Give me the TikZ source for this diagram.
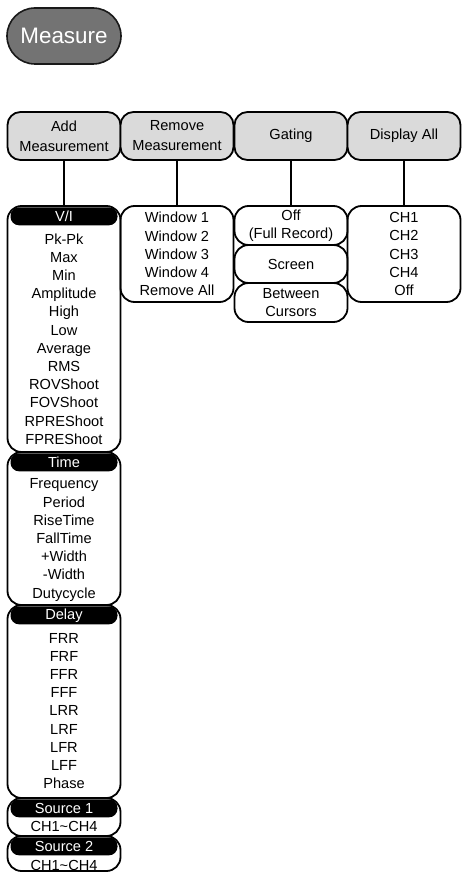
\documentclass[tikz,border=0pt]{standalone}
\usepackage{fontspec}
\setmainfont{Liberation Sans}
\usetikzlibrary{positioning}
\definecolor{btngray}{HTML}{737373}
\definecolor{menugray}{HTML}{DADADA}
\tikzset{
  keybtn/.style    = {draw=black!90,fill=btngray,line width=1.6pt,rounded corners=28pt,
                      minimum width=114pt,minimum height=56pt,text=white,
                      font=\fontsize{22.4}{24}\selectfont},
  menubtn/.style   = {draw,fill=menugray,line width=1.8pt,rounded corners=13pt,
                      minimum width=113pt,minimum height=48pt,align=center,inner sep=0pt,
                      font=\fontsize{14.6}{20}\selectfont},
  listframe/.style = {draw,line width=1.8pt,rounded corners=14pt,minimum width=113pt,
                      inner sep=0pt,align=center,font=\fontsize{14.6}{18.2}\selectfont},
  hdr/.style       = {fill=black,text=white,rounded corners=8.5pt,minimum width=107pt,
                      minimum height=18pt,inner sep=0pt,anchor=north,yshift=-2pt,
                      font=\fontsize{14.6}{18.2}\selectfont},
  items/.style     = {align=center,inner sep=0pt,font=\fontsize{14.6}{18.2}\selectfont},
  link/.style      = {line width=1.8pt}
}

\begin{document}
\begin{tikzpicture}[x=1pt,y=-1pt]
  \useasboundingbox (0,0) rectangle (461,872);
  \node[keybtn] (measure) at (64,36) {Measure};
  % soft keys
  \node[menubtn] (add)     at (64,136)  {Add\\Measurement};
  \node[menubtn] (remove)  at (177,136) {Remove\\Measurement};
  \node[menubtn] (gating)  at (291,136) {Gating};
  \node[menubtn] (dispall) at (404,136) {Display All};
  % add measurement
  \node[listframe,minimum height=246pt] (vibox) at (64,329) {};
  \node[hdr] (vihead) at (vibox.north) {V/I};
  \node[items] (viitems) at (64,339) {Pk-Pk\\Max\\Min\\Amplitude\\High\\Low\\Average\\RMS\\ROVShoot\\FOVShoot\\RPREShoot\\FPREShoot};
  \node[listframe,minimum height=153pt] (timebox) at (64,528.5) {};
  \node[hdr] (timehead) at (timebox.north) {Time};
  \node[items] (timeitems) at (64,540) {Frequency\\Period\\RiseTime\\FallTime\\+Width\\-Width\\Dutycycle};
  \node[listframe,minimum height=193pt] (delaybox) at (64,701.5) {};
  \node[hdr] (delayhead) at (delaybox.north) {Delay};
  \node[items] (delayitems) at (64,711) {FRR\\FRF\\FFR\\FFF\\LRR\\LRF\\LFR\\LFF\\Phase};
  \node[listframe,minimum height=38pt] (srcabox) at (64,817) {};
  \node[hdr] (srcahead) at (srcabox.north) {Source 1};
  \node[items] (srcaitems) at (64,826) {CH1\textasciitilde CH4};
  \node[listframe,minimum height=35pt] (srcbbox) at (64,853.5) {};
  \node[hdr] (srcbhead) at (srcbbox.north) {Source 2};
  \node[items] (srcbitems) at (64,865) {CH1\textasciitilde CH4};
  % remove measurement
  \node[listframe,minimum height=96pt] (winbox) at (177,254) {Window 1\\Window 2\\Window 3\\Window 4\\Remove All};
  % gating
  \node[listframe,minimum height=39pt] (offbox)    at (291,225.5) {Off\\(Full Record)};
  \node[listframe,minimum height=38pt] (screenbox) at (291,264)   {Screen};
  \node[listframe,minimum height=39pt] (curbox)    at (291,302.5) {Between\\Cursors};
  % display all
  \node[listframe,minimum height=96pt] (chbox) at (404,254) {CH1\\CH2\\CH3\\CH4\\Off};
  % links
  \draw[link] (add) -- (vibox);
  \draw[link] (remove) -- (winbox);
  \draw[link] (gating) -- (offbox);
  \draw[link] (dispall) -- (chbox);
\end{tikzpicture}
\end{document}
